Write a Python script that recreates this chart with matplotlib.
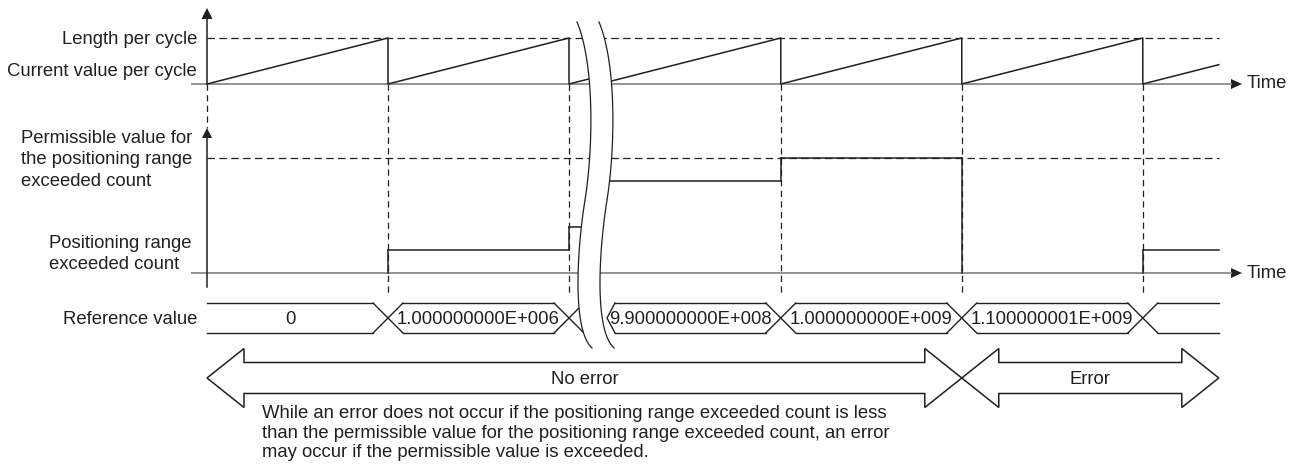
import numpy as np
import matplotlib.pyplot as plt
from matplotlib.patches import Polygon

plt.rcParams['font.family'] = ['Liberation Sans', 'DejaVu Sans']

# time is in cycles; the break hides the cycles between 2.0 and 2.17
cycle_starts = [0.0, 1.0, 2.0, 2.17, 3.17, 4.17, 5.17]
t_end = 5.59
marker_times = [1.0, 2.0, 3.17, 4.17, 5.17]

# positioning range exceeded count (step values) and its permissible value
count_times = [1.0, 2.0, 2.17, 3.17, 4.17, 5.17]
count_values = [1, 2, 4, 5, 0, 1]
permissible_value = 5

# reference value bus
ref_times = [0.0, 1.0, 2.0, 2.21, 3.17, 4.17, 5.17]
ref_kinds = ['start', 'x', 'x', 'chevron', 'x', 'x', 'x']
ref_labels = ['0', '1.000000000E+006', '', '9.900000000E+008',
              '1.000000000E+009', '1.100000001E+009', '']

note = ('While an error does not occur if the positioning range exceeded count is less\n'
        'than the permissible value for the positioning range exceeded count, an error\n'
        'may occur if the permissible value is exceeded.')

# layout (pixels)
X0, CYC = 207, 181
SAW_BASE, SAW_TOP = 84, 38
CNT_BASE, CNT_STEP = 273, 23
BUS_TOP, BUS_BOT = 303, 333
BUS_MID = (BUS_TOP + BUS_BOT) / 2
HX = 15
INK = '#231f20'
FS = 13.3


def tx(t):
    return X0 + CYC * t


fig = plt.figure(figsize=(12.94, 4.66), dpi=100)
ax = fig.add_axes([0, 0, 1, 1])
ax.set_xlim(0, 1294)
ax.set_ylim(466, 0)
ax.axis('off')

x_end = tx(t_end)

# guide lines
ax.plot([X0, x_end], [SAW_TOP, SAW_TOP], color=INK, lw=0.9, dashes=(6, 3.5))
perm_y = CNT_BASE - CNT_STEP * permissible_value
ax.plot([X0, x_end], [perm_y, perm_y], color=INK, lw=0.9, dashes=(6, 3.5))
for t in marker_times:
    ax.plot([tx(t), tx(t)], [SAW_BASE, 295], color=INK, lw=0.9, dashes=(5, 3.5))
ax.plot([X0, X0], [SAW_BASE, 128], color=INK, lw=0.9, dashes=(5, 3.5))

# time baselines with arrows
for yb in (SAW_BASE, CNT_BASE):
    ax.plot([191, 1232], [yb, yb], color='#8a8a8a', lw=1.3, solid_capstyle='butt')
    ax.add_patch(Polygon([[1231, yb - 5], [1231, yb + 5], [1242, yb]],
                         closed=True, color=INK, lw=0))
    ax.text(1247, yb, 'Time', fontsize=FS, color=INK, ha='left', va='center')

# vertical axes
ax.plot([X0, X0], [SAW_BASE, 18], color=INK, lw=1.1)
ax.add_patch(Polygon([[X0 - 5.5, 19], [X0 + 5.5, 19], [X0, 8]], closed=True, color=INK, lw=0))
ax.plot([X0, X0], [287, 137], color=INK, lw=1.1)
ax.add_patch(Polygon([[X0 - 5, 138], [X0 + 5, 138], [X0, 128]], closed=True, color=INK, lw=0))

# current value per cycle (sawtooth)
sx, sy = [], []
for i, s in enumerate(cycle_starts):
    e = cycle_starts[i + 1] if i + 1 < len(cycle_starts) else t_end
    sx += [tx(s), tx(e)]
    sy += [SAW_BASE, SAW_BASE - (SAW_BASE - SAW_TOP) * min(e - s, 1.0)]
ax.plot(sx, sy, color=INK, lw=1.1)

# exceeded count (step), only drawn in black where it is above zero
prev = 0
for i, (t, v) in enumerate(zip(count_times, count_values)):
    t_next = count_times[i + 1] if i + 1 < len(count_times) else t_end
    ax.plot([tx(t), tx(t)], [CNT_BASE - CNT_STEP * prev, CNT_BASE - CNT_STEP * v],
            color=INK, lw=1.1)
    if v > 0:
        ax.plot([tx(t), tx(t_next)], [CNT_BASE - CNT_STEP * v] * 2, color=INK, lw=1.1)
    prev = v

# reference value bus
half = {'start': 0, 'x': HX, 'chevron': 8}
for i, (t, kind, lab) in enumerate(zip(ref_times, ref_kinds, ref_labels)):
    xe = tx(t)
    if kind == 'x':
        ax.plot([xe - HX, xe + HX], [BUS_TOP, BUS_BOT], color=INK, lw=1.0)
        ax.plot([xe - HX, xe + HX], [BUS_BOT, BUS_TOP], color=INK, lw=1.0)
    elif kind == 'chevron':
        ax.plot([xe + 8, xe, xe + 8], [BUS_TOP, BUS_MID, BUS_BOT], color=INK, lw=1.0)
    left = xe + half[kind]
    if i + 1 < len(ref_times):
        right = tx(ref_times[i + 1]) - half[ref_kinds[i + 1]]
    else:
        right = x_end
    ax.plot([left, right], [BUS_TOP, BUS_TOP], color=INK, lw=1.0)
    ax.plot([left, right], [BUS_BOT, BUS_BOT], color=INK, lw=1.0)
    if lab:
        ax.text((left + right) / 2, BUS_MID + 1, lab, fontsize=FS, color=INK,
                ha='center', va='center')


# break mark: two S-shaped curves with white between
def bezier(p0, p1, p2, p3, n=40):
    u = np.linspace(0, 1, n)[:, None]
    pts = np.array([p0, p1, p2, p3], dtype=float)
    return ((1 - u) ** 3 * pts[0] + 3 * (1 - u) ** 2 * u * pts[1]
            + 3 * (1 - u) * u ** 2 * pts[2] + u ** 3 * pts[3])


left_curve = np.vstack([bezier((577, 22), (595, 65), (593, 150), (585, 200)),
                        bezier((585, 200), (577, 250), (572, 330), (592, 348))])
right_curve = left_curve + np.array([22, 0])
ax.add_patch(Polygon(np.vstack([left_curve, right_curve[::-1]]), closed=True,
                     facecolor='white', edgecolor='none', zorder=5))
for c in (left_curve, right_curve):
    ax.plot(c[:, 0], c[:, 1], color=INK, lw=0.9, zorder=6)


# no error / error arrows
def block_arrow(x1, x2, yc, head=37, hh=29.5, sh=15.5):
    return [[x1, yc], [x1 + head, yc - hh], [x1 + head, yc - sh], [x2 - head, yc - sh],
            [x2 - head, yc - hh], [x2, yc], [x2 - head, yc + hh], [x2 - head, yc + sh],
            [x1 + head, yc + sh], [x1 + head, yc + hh]]


ARR_Y = 378
ax.add_patch(Polygon(block_arrow(X0, tx(4.17), ARR_Y), closed=True, fill=False,
                     edgecolor=INK, lw=1.1))
ax.add_patch(Polygon(block_arrow(tx(4.17), x_end, ARR_Y), closed=True, fill=False,
                     edgecolor=INK, lw=1.1))
ax.text(585, ARR_Y + 1, 'No error', fontsize=FS, color=INK, ha='center', va='center')
ax.text(1090, ARR_Y + 1, 'Error', fontsize=FS, color=INK, ha='center', va='center')

# labels
ax.text(197, 40, 'Length per cycle', fontsize=FS, color=INK, ha='right', va='center')
ax.text(197, 72, 'Current value per cycle', fontsize=FS, color=INK, ha='right', va='center')
ax.text(21, 160, 'Permissible value for\nthe positioning range\nexceeded count',
        fontsize=FS, color=INK, ha='left', va='center', linespacing=1.32)
ax.text(49, 254, 'Positioning range\nexceeded count', fontsize=FS, color=INK,
        ha='left', va='center', linespacing=1.32)
ax.text(197, 319, 'Reference value', fontsize=FS, color=INK, ha='right', va='center')
ax.text(262, 433, note, fontsize=FS, color=INK, ha='left', va='center', linespacing=1.2)

fig.savefig('out.png', dpi=100)
